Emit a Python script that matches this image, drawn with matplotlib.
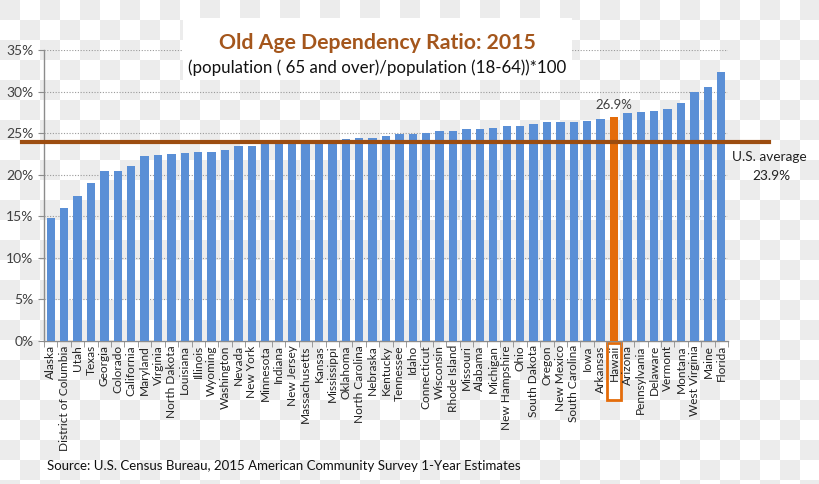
import numpy as np
import matplotlib
matplotlib.use("Agg")
import matplotlib.pyplot as plt
from matplotlib.patches import Rectangle

plt.rcParams['font.family'] = ['Lato', 'DejaVu Sans']

# data (percent)
states = ["Alaska", "District of Columbia", "Utah", "Texas", "Georgia", "Colorado",
          "California", "Maryland", "Virginia", "North Dakota", "Louisiana", "Illinois",
          "Wyoming", "Washington", "Nevada", "New York", "Minnesota", "Indiana",
          "New Jersey", "Massachusetts", "Kansas", "Mississippi", "Oklahoma",
          "North Carolina", "Nebraska", "Kentucky", "Tennessee", "Idaho", "Connecticut",
          "Wisconsin", "Rhode Island", "Missouri", "Alabama", "Michigan",
          "New Hampshire", "Ohio", "South Dakota", "Oregon", "New Mexico",
          "South Carolina", "Iowa", "Arkansas", "Hawaii", "Arizona", "Pennsylvania",
          "Delaware", "Vermont", "Montana", "West Virginia", "Maine", "Florida"]
ratios = [14.8, 16.0, 17.4, 19.0, 20.4, 20.5, 21.0, 22.3, 22.4, 22.5, 22.6, 22.7,
          22.7, 23.0, 23.5, 23.5, 23.7, 23.7, 24.0, 24.0, 24.1, 24.2, 24.3, 24.4,
          24.4, 24.7, 24.9, 24.9, 25.0, 25.2, 25.3, 25.5, 25.5, 25.6, 25.8, 25.8,
          26.1, 26.3, 26.4, 26.4, 26.5, 26.7, 26.9, 27.4, 27.5, 27.7, 27.9, 28.6,
          29.9, 30.5, 32.3]
highlight = "Hawaii"
us_avg = 23.9
yticks = [0, 5, 10, 15, 20, 25, 30, 35]

blue = "#5a8fd6"
orange = "#e46c0a"
brown = "#9c4d10"

W, H = 820, 484
fig = plt.figure(figsize=(W / 100, H / 100), dpi=100)

# checkerboard backdrop (transparent-png look)
bg = fig.add_axes([0, 0, 1, 1], zorder=-10)
rows, cols = int(np.ceil(H / 20)), int(np.ceil(W / 20))
board = (np.add.outer(np.arange(rows), np.arange(cols)) % 2 == 0).astype(float)
bg.imshow(board, cmap=matplotlib.colors.ListedColormap(["#ffffff", "#ececec"]),
          extent=[0, cols * 20, rows * 20, 0], interpolation="nearest", aspect="auto")
bg.set_xlim(0, W)
bg.set_ylim(H, 0)
bg.axis("off")

ax = fig.add_axes([44 / W, 1 - 341 / H, (728 - 44) / W, (341 - 50) / H])
ax.patch.set_alpha(0)

x = np.arange(len(states))
colors = [orange if s == highlight else blue for s in states]
ax.bar(x, ratios, width=0.62, color=colors, zorder=3)

ax.set_xlim(-0.5, len(states) - 0.5)
ax.set_ylim(0, 35)
ax.set_yticks(yticks)
ax.set_yticklabels([f"{t}%" for t in yticks], fontsize=10, color="#404040")
ax.yaxis.grid(True, linestyle=(0, (1, 1.5)), color="#9a9a9a", linewidth=0.8, zorder=0)

ax.set_xticks(x)
ax.set_xticklabels(states, rotation=90, fontsize=8.6, color="#222222")
ax.set_xticks(np.arange(-0.5, len(states)), minor=True)
ax.tick_params(axis="x", which="major", length=0, pad=3)
ax.tick_params(axis="x", which="minor", length=4, color="#8c8c8c", direction="out")
ax.tick_params(axis="y", length=4, color="#8c8c8c", direction="out")

for side in ["top", "right"]:
    ax.spines[side].set_visible(False)
for side in ["left", "bottom"]:
    ax.spines[side].set_color("#8c8c8c")
    ax.spines[side].set_linewidth(1)

# U.S. average line
ax.axhline(us_avg, xmin=-0.032, xmax=1.06, color=brown, linewidth=3, clip_on=False, zorder=4)
fig.text(769 / W, 1 - 157 / H, "U.S. average", ha="center", va="center",
         fontsize=9.8, color="#222222")
fig.text(771 / W, 1 - 176 / H, f"{us_avg}%", ha="center", va="center",
         fontsize=9.8, color="#222222")

# highlighted state
hi = states.index(highlight)
ax.text(hi, ratios[hi] + 0.8, f"{ratios[hi]}%", ha="center", va="bottom",
        fontsize=9.5, color="#404040")
ax.add_patch(Rectangle((hi - 0.55, -0.203), 1.1, 0.196, transform=ax.get_xaxis_transform(),
                       facecolor="none", edgecolor=orange, linewidth=2, clip_on=False))

# title box
fig.patches.append(Rectangle((183 / W, 1 - 80 / H), (572 - 183) / W, 62 / H,
                             transform=fig.transFigure, facecolor="white",
                             edgecolor="none", zorder=5))
fig.text(377 / W, 1 - 43 / H, "Old Age Dependency Ratio: 2015", ha="center", va="center",
         fontsize=15.3, fontweight="bold", color="#a4561c", zorder=6)
fig.text(377 / W, 1 - 68 / H, "(population ( 65 and over)/population (18-64))*100",
         ha="center", va="center", fontsize=12.2, color="#111111", zorder=6)

fig.text(47 / W, 1 - 466 / H,
         "Source: U.S. Census Bureau, 2015 American Community Survey 1-Year Estimates",
         ha="left", va="center", fontsize=9.5, color="#111111")

fig.savefig("out.png", dpi=100)
